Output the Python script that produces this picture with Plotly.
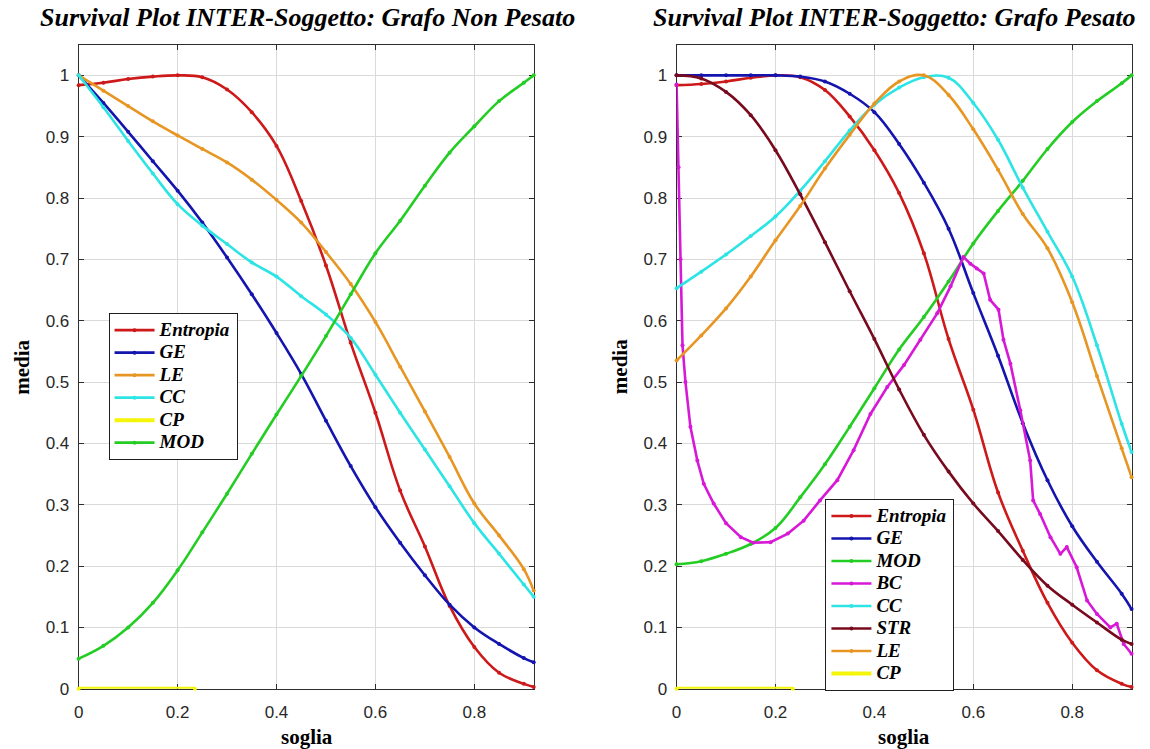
import plotly.graph_objects as go

# ---------------- data ----------------
X = [0, 0.05, 0.1, 0.15, 0.2, 0.25, 0.3, 0.35, 0.4, 0.45, 0.5, 0.55,
     0.6, 0.65, 0.7, 0.75, 0.8, 0.85, 0.9, 0.92]

# left panel: Grafo Non Pesato
L_ENTROPIA = [0.984, 0.988, 0.994, 0.998, 1.0, 0.997, 0.977, 0.94, 0.885, 0.795,
              0.69, 0.564, 0.45, 0.323, 0.232, 0.135, 0.068, 0.026, 0.008, 0.003]
L_GE = [1.0, 0.955, 0.908, 0.86, 0.812, 0.76, 0.703, 0.643, 0.58, 0.513,
        0.437, 0.363, 0.296, 0.238, 0.185, 0.137, 0.10, 0.073, 0.05, 0.043]
L_LE = [1.0, 0.975, 0.95, 0.925, 0.902, 0.88, 0.858, 0.83, 0.797, 0.76,
        0.712, 0.66, 0.598, 0.525, 0.452, 0.378, 0.302, 0.25, 0.195, 0.16]
L_CC = [1.0, 0.948, 0.893, 0.84, 0.79, 0.755, 0.725, 0.695, 0.672, 0.64,
        0.61, 0.572, 0.512, 0.45, 0.39, 0.33, 0.27, 0.22, 0.17, 0.15]
L_CP_X = [0, 0.235]
L_CP = [0, 0]
L_MOD = [0.049, 0.07, 0.10, 0.14, 0.193, 0.255, 0.318, 0.383, 0.447, 0.51,
         0.575, 0.643, 0.71, 0.763, 0.82, 0.874, 0.917, 0.958, 0.988, 1.0]

# right panel: Grafo Pesato
R_ENTROPIA = [0.984, 0.986, 0.99, 0.996, 1.0, 0.997, 0.976, 0.933, 0.878, 0.808,
              0.71, 0.57, 0.455, 0.32, 0.225, 0.14, 0.075, 0.03, 0.008, 0.003]
R_GE = [1.0, 1.0, 1.0, 1.0, 1.0, 0.998, 0.99, 0.97, 0.94, 0.888,
        0.825, 0.75, 0.645, 0.543, 0.433, 0.34, 0.265, 0.207, 0.155, 0.13]
R_MOD = [0.203, 0.208, 0.22, 0.236, 0.262, 0.312, 0.366, 0.427, 0.49, 0.553,
         0.606, 0.664, 0.726, 0.779, 0.828, 0.88, 0.924, 0.958, 0.987, 1.0]
R_BC_X = [0, 0.004, 0.008, 0.012, 0.018, 0.028, 0.042, 0.055, 0.075, 0.1,
          0.13, 0.155, 0.19, 0.225, 0.257, 0.29, 0.325, 0.358, 0.392, 0.426,
          0.46, 0.493, 0.527, 0.554, 0.58, 0.594, 0.607, 0.621, 0.634, 0.651,
          0.661, 0.675, 0.695, 0.715, 0.721, 0.735, 0.756, 0.776, 0.789, 0.809,
          0.83, 0.85, 0.877, 0.89, 0.904, 0.92]
R_BC = [0.985, 0.85, 0.7, 0.56, 0.50, 0.427, 0.372, 0.334, 0.302, 0.27,
        0.247, 0.238, 0.239, 0.253, 0.274, 0.307, 0.34, 0.389, 0.448, 0.492,
        0.528, 0.569, 0.612, 0.656, 0.704, 0.693, 0.685, 0.677, 0.634, 0.618,
        0.569, 0.53, 0.454, 0.372, 0.307, 0.285, 0.247, 0.22, 0.231, 0.198,
        0.144, 0.122, 0.10, 0.106, 0.073, 0.057]
R_CC = [0.653, 0.68, 0.708, 0.738, 0.77, 0.812, 0.86, 0.91, 0.952, 0.98,
        0.997, 0.996, 0.955, 0.895, 0.817, 0.745, 0.672, 0.56, 0.432, 0.386]
R_STR = [1.0, 0.995, 0.973, 0.935, 0.878, 0.806, 0.728, 0.648, 0.57, 0.488,
         0.414, 0.354, 0.302, 0.257, 0.21, 0.168, 0.137, 0.108, 0.08, 0.073]
R_LE = [0.535, 0.576, 0.62, 0.672, 0.731, 0.787, 0.848, 0.903, 0.954, 0.99,
        1.0, 0.968, 0.912, 0.846, 0.774, 0.718, 0.63, 0.51, 0.392, 0.345]
R_CP_X = [0, 0.235]
R_CP = [0, 0]

X_TICKS = [0, 0.2, 0.4, 0.6, 0.8]
X_TICK_TEXT = ["0", "0.2", "0.4", "0.6", "0.8"]
Y_TICKS = [0, 0.1, 0.2, 0.3, 0.4, 0.5, 0.6, 0.7, 0.8, 0.9, 1.0]
Y_TICK_TEXT = ["0", "0.1", "0.2", "0.3", "0.4", "0.5", "0.6", "0.7", "0.8", "0.9", "1"]

TITLE_L = "Survival Plot INTER-Soggetto: Grafo Non Pesato"
TITLE_R = "Survival Plot INTER-Soggetto: Grafo Pesato"

COL = {
    "Entropia": "rgb(205,25,25)",
    "GE": "rgb(20,20,175)",
    "LE": "rgb(232,150,35)",
    "CC": "rgb(45,228,228)",
    "CP": "rgb(245,245,10)",
    "MOD": "rgb(35,205,35)",
    "BC": "rgb(215,25,215)",
    "STR": "rgb(120,10,30)",
}

W, H = 1150, 749
VS = 0.987  # empirical vertical correction


def py(px):
    return 1 - (px / VS) / H


L_DOM = [74.0 / W, 531.0 / W]
R_DOM = [674.5 / W, 1131.5 / W]
Y_DOM = [py(689), py(44.7)]

SERIF = "Liberation Serif, Times New Roman, serif"
SANS = "Liberation Sans, Arial, sans-serif"

fig = go.Figure()


def add(name, xs, ys, axis, legend, shape="spline", width=2.6):
    fig.add_trace(go.Scatter(
        x=xs, y=ys, mode="lines+markers",
        name='<span style="font-size:19px">%s</span>' % name,
        line=dict(color=COL[name], width=width, shape=shape, smoothing=1.1),
        marker=dict(color=COL[name], size=4),
        xaxis="x" if axis == 1 else "x2", yaxis="y" if axis == 1 else "y2",
        legend=legend, legendgroup=name + str(axis), cliponaxis=False,
    ))


add("Entropia", X, L_ENTROPIA, 1, "legend")
add("GE", X, L_GE, 1, "legend")
add("LE", X, L_LE, 1, "legend")
add("CC", X, L_CC, 1, "legend")
add("CP", L_CP_X, L_CP, 1, "legend", "linear", 4)
add("MOD", X, L_MOD, 1, "legend")

add("Entropia", X, R_ENTROPIA, 2, "legend2")
add("GE", X, R_GE, 2, "legend2")
add("MOD", X, R_MOD, 2, "legend2")
add("BC", R_BC_X, R_BC, 2, "legend2", "linear")
add("CC", X, R_CC, 2, "legend2")
add("STR", X, R_STR, 2, "legend2")
add("LE", X, R_LE, 2, "legend2")
add("CP", R_CP_X, R_CP, 2, "legend2", "linear", 4)

axis_common = dict(
    showgrid=True, gridcolor="rgb(218,218,218)", gridwidth=1,
    showline=True, linecolor="rgb(45,45,45)", linewidth=1, mirror="ticks",
    ticks="inside", ticklen=5, tickcolor="rgb(45,45,45)",
    tickfont=dict(family=SANS, size=17, color="rgb(40,40,40)"),
    zeroline=False, layer="below traces", fixedrange=True,
)

legend_common = dict(
    bgcolor="white", bordercolor="rgb(30,30,30)", borderwidth=1,
    font=dict(family=SERIF, size=15, color="black", weight="bold", style="italic"),
    xanchor="left", yanchor="top", traceorder="grouped", tracegroupgap=0,
    itemwidth=40,
)

fig.update_layout(
    width=W, height=H, margin=dict(l=0, r=0, t=0, b=0),
    paper_bgcolor="white", plot_bgcolor="white",
    xaxis=dict(domain=L_DOM, range=[0, 0.92], tickvals=X_TICKS, ticktext=X_TICK_TEXT,
               anchor="y", ticklabelstandoff=8, **axis_common),
    yaxis=dict(domain=Y_DOM, range=[0, 1.05], tickvals=Y_TICKS, ticktext=Y_TICK_TEXT,
               anchor="x", ticklabelstandoff=5, **axis_common),
    xaxis2=dict(domain=R_DOM, range=[0, 0.92], tickvals=X_TICKS, ticktext=X_TICK_TEXT,
                anchor="y2", ticklabelstandoff=8, **axis_common),
    yaxis2=dict(domain=Y_DOM, range=[0, 1.05], tickvals=Y_TICKS, ticktext=Y_TICK_TEXT,
                anchor="x2", ticklabelstandoff=5, **axis_common),
    legend=dict(x=104 / W, y=py(313), **legend_common),
    legend2=dict(x=824 / W, y=py(499), **legend_common),
    showlegend=True,
)

title_font = dict(family=SERIF, size=26, color="black", weight="bold", style="italic")
label_font = dict(family=SERIF, size=21, color="black", weight="bold")

fig.add_annotation(text=TITLE_L, xref="paper", yref="paper",
                   x=304 / W, y=py(18), showarrow=False,
                   font=title_font, xanchor="center", yanchor="middle")
fig.add_annotation(text=TITLE_R, xref="paper", yref="paper",
                   x=893 / W, y=py(18), showarrow=False,
                   font=title_font, xanchor="center", yanchor="middle")
for cx in (303, 903):
    fig.add_annotation(text="soglia", xref="paper", yref="paper",
                       x=cx / W, y=1 - 747 / H, showarrow=False,
                       font=label_font, xanchor="center", yanchor="middle")
fig.add_annotation(text="media", xref="paper", yref="paper",
                   x=17 / W, y=py(367), showarrow=False, textangle=-90,
                   font=label_font, xanchor="center", yanchor="middle")
fig.add_annotation(text="media", xref="paper", yref="paper",
                   x=618 / W, y=py(367), showarrow=False, textangle=-90,
                   font=label_font, xanchor="center", yanchor="middle")

fig.write_html("out.html")
